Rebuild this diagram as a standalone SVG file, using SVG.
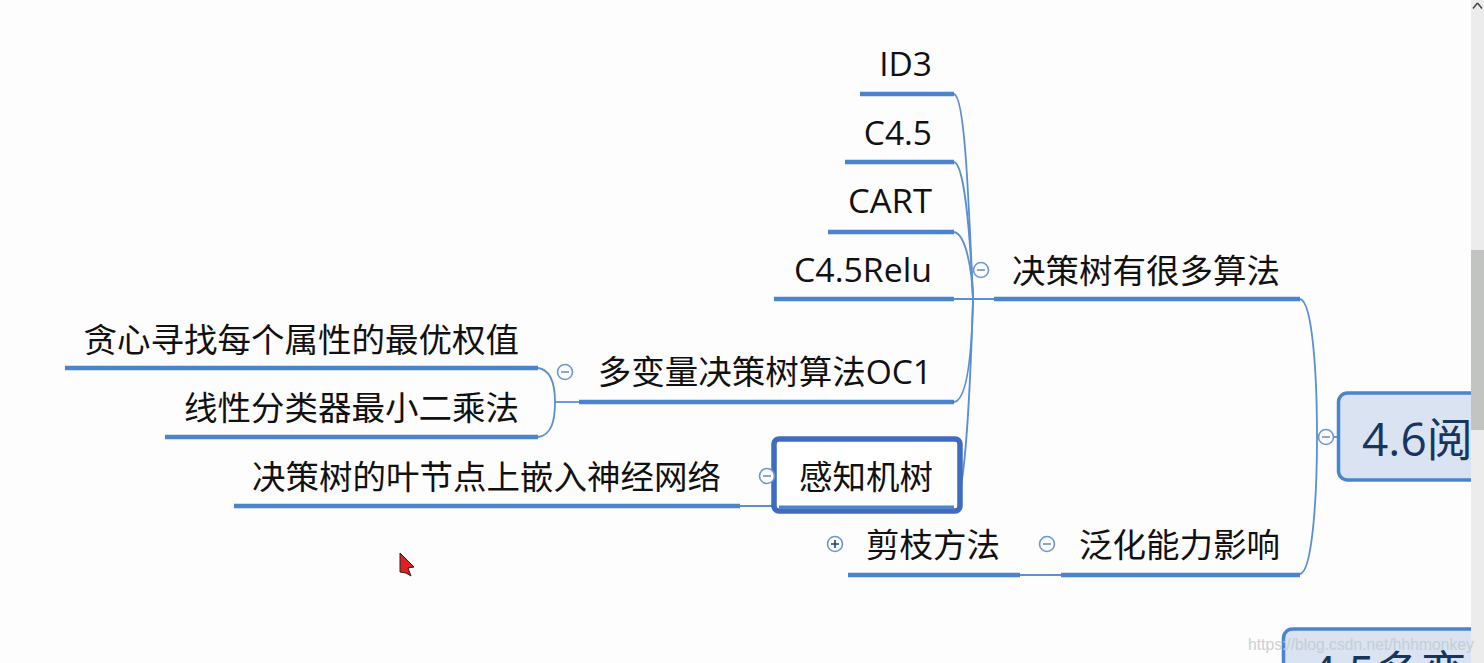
<svg xmlns="http://www.w3.org/2000/svg" width="1484" height="663" viewBox="0 0 1484 663">
<style>
text{font-family:"Open Sans","Noto Sans CJK SC",sans-serif;fill:#111}
.t{font-size:33.500px;text-anchor:end}
.u{stroke:#4a84cf;stroke-width:4.500;fill:none}
.c{stroke:#5b8fd2;stroke-width:1.800;fill:none}
.m{fill:#fbfcfe;stroke:#6d97d3;stroke-width:1.600}
.g{stroke:#7a8fb0;stroke-width:1.600}
.p{stroke:#1f3f78;stroke-width:1.600}
</style>
<rect width="1484" height="663" fill="#fdfdfd"/>
<g id="connectors">
<path class="c" d="M954 94C964 96 968 180 973 299"/>
<path class="c" d="M954 162C964 164 970 230 973 299"/>
<path class="c" d="M954 232C966 234 972 270 973 299"/>
<path class="c" d="M954 299H994"/>
<path class="c" d="M954 402C968 400 972 350 973 299"/>
<path class="c" d="M954 506C964 506 970 400 973 299"/>
<path class="c" d="M1300 299C1312 301 1317 370 1317 437"/>
<path class="c" d="M1300 574C1312 572 1317 500 1317 437"/>
<path class="c" d="M1317 437H1338"/>
<path class="c" d="M538 368C552 370 555 385 555 402C555 420 552 435 538 437"/>
<path class="c" d="M555 402H579"/>
<path class="c" d="M740 506H775"/>
<path class="c" d="M1020 575H1061"/>
</g>
<g id="n-id3"><text class="t" x="932" y="76">ID3</text><path class="u" d="M860 94H954"/></g>
<g id="n-c45"><text class="t" x="932" y="145">C4.5</text><path class="u" d="M845 162H954"/></g>
<g id="n-cart"><text class="t" x="932" y="213" textLength="84" lengthAdjust="spacingAndGlyphs">CART</text><path class="u" d="M828 232H954"/></g>
<g id="n-c45relu"><text class="t" x="932" y="282" textLength="138" lengthAdjust="spacingAndGlyphs">C4.5Relu</text><path class="u" d="M774 299H954"/></g>
<g id="n-algos"><text class="t" x="1280" y="283">决策树有很多算法</text><path class="u" d="M994 299H1300"/><circle class="m" cx="981" cy="270" r="7.500"/><path class="g" d="M977 270H985"/></g>
<g id="n-greedy"><text class="t" x="519" y="352">贪心寻找每个属性的最优权值</text><path class="u" d="M65 368H538"/></g>
<g id="n-linear"><text class="t" x="519" y="420">线性分类器最小二乘法</text><path class="u" d="M165 437H538"/></g>
<g id="n-oc1"><text class="t" x="932" y="384">多变量决策树算法OC1</text><path class="u" d="M579 402H954"/><circle class="m" cx="565" cy="372" r="7.500"/><path class="g" d="M561 372H569"/></g>
<g id="n-leaf"><text class="t" x="721" y="489">决策树的叶节点上嵌入神经网络</text><path class="u" d="M234 506H740"/></g>
<g id="n-perceptron"><rect x="774" y="439" width="186" height="72" rx="5" fill="#fff" stroke="#3f6cc0" stroke-width="5.500"/><path d="M779 507H954" stroke="#4a84cf" stroke-width="3"/><text class="t" x="933" y="489">感知机树</text><circle class="m" cx="767" cy="476" r="7.500"/><path class="g" d="M763 476H771"/></g>
<g id="n-prune"><text class="t" x="1000" y="557">剪枝方法</text><path class="u" d="M848 575H1020"/><circle class="m" cx="835" cy="544" r="7.500"/><path class="p" d="M831 544H839M835 540V548"/></g>
<g id="n-general"><text class="t" x="1280" y="557">泛化能力影响</text><path class="u" d="M1061 575H1300"/><circle class="m" cx="1047" cy="544" r="7.500"/><path class="g" d="M1043 544H1051"/></g>
<g id="n-46"><rect x="1338.500" y="393" width="150" height="87" rx="9" fill="#d9e3f1" stroke="#4a84cf" stroke-width="3.500"/><text x="1362" y="456" font-size="46" style="fill:#17365d">4.6阅</text><circle class="m" cx="1326" cy="437" r="7.500"/><path class="g" d="M1322 437H1330"/></g>
<g id="n-45"><rect x="1283.500" y="629" width="210" height="60" rx="9" fill="#d9e3f1" stroke="#4a84cf" stroke-width="3.500"/><text x="1310" y="689" font-size="46" style="fill:#17365d">4.5多变</text></g>
<rect x="1471" y="0" width="13" height="663" fill="#ececec"/>
<rect x="1471" y="250" width="13" height="180" fill="#c2c4c2"/>
<path d="M1477.500 3L1473 8.500M1477.500 3L1482 8.500" stroke="#444" stroke-width="1.500" fill="none"/>
<text x="1248" y="650" font-size="15.700" style="font-family:'Liberation Sans',sans-serif;fill:#c6cad0" opacity="0.9">https://blog.csdn.net/hhhmonkey</text>
<path id="cursor" d="M400 553L414 567L408 568L411 576L406 573L400 572Z" fill="#e02020" stroke="#222" stroke-width="1"/>
</svg>
